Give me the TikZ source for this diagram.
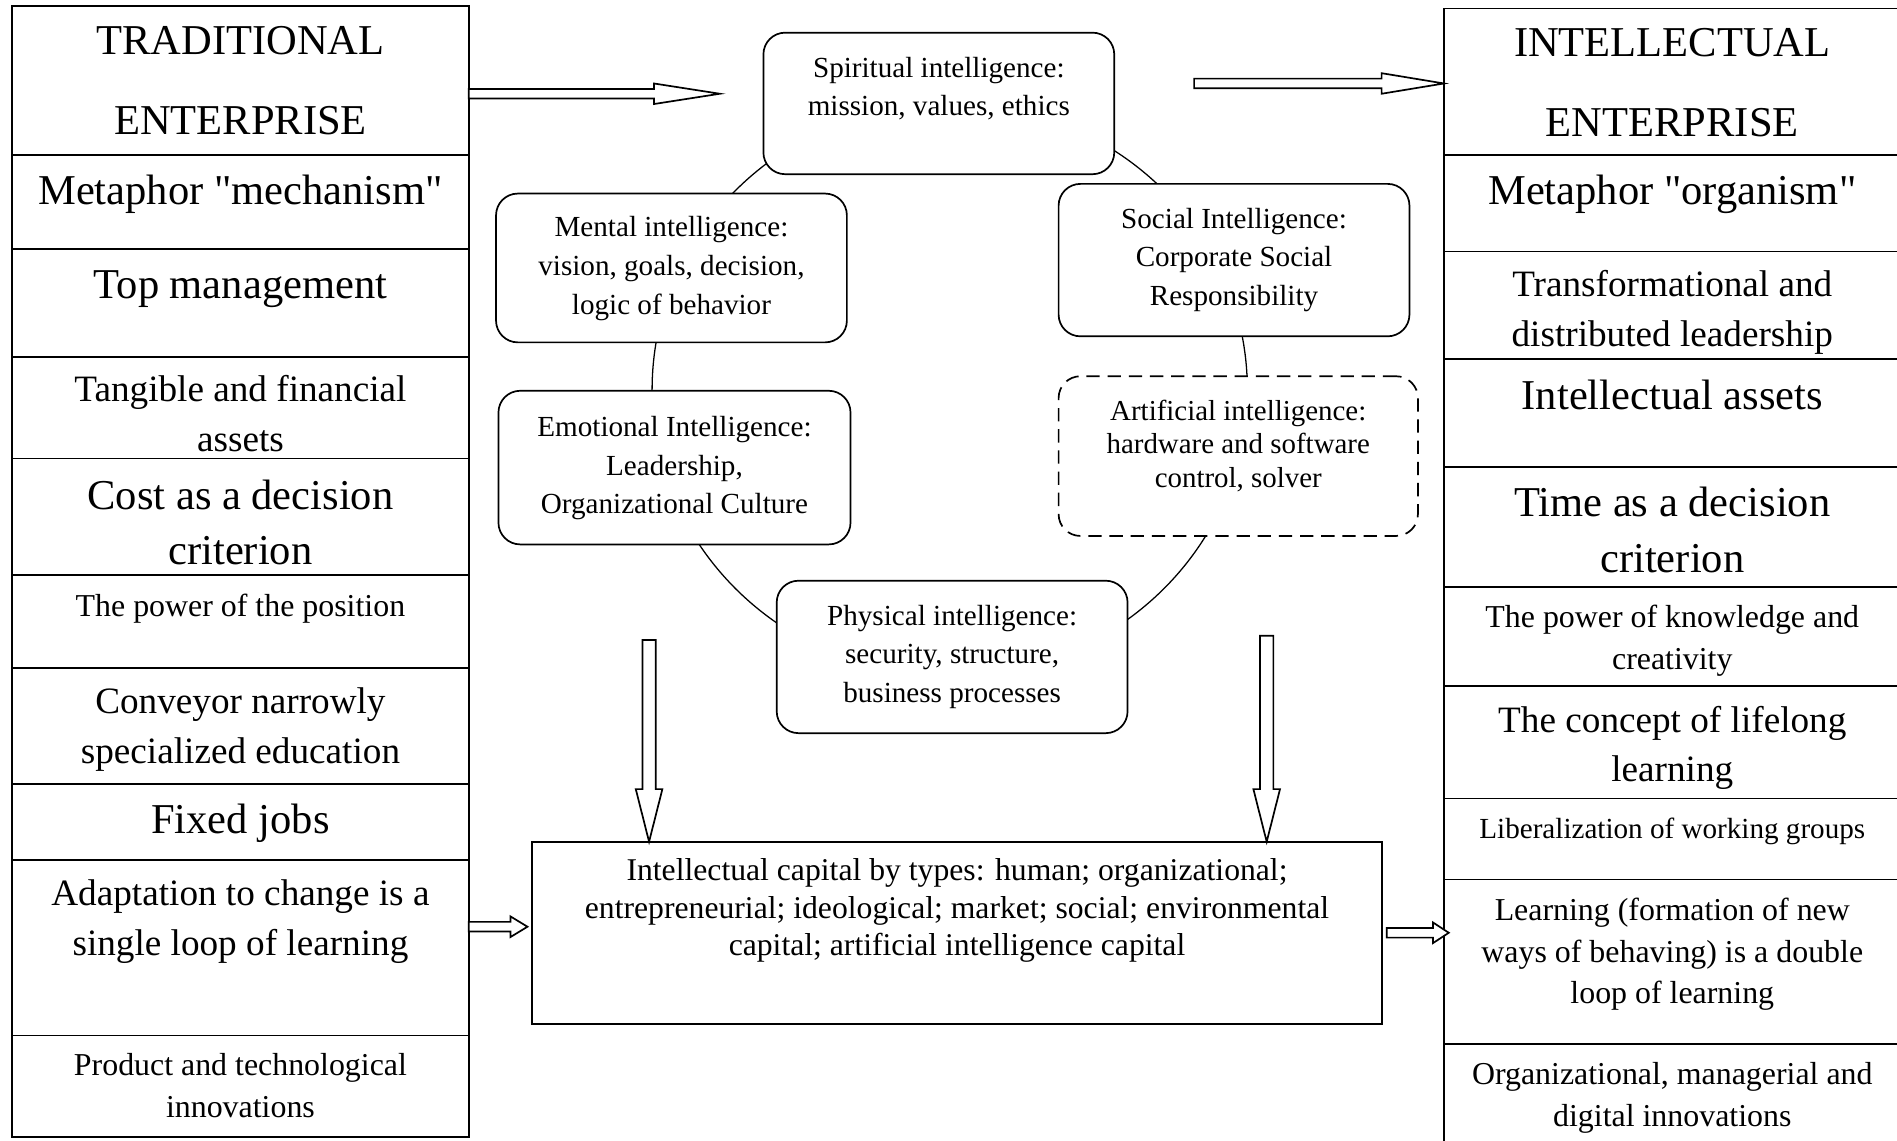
\documentclass[tikz,border=0pt]{standalone}
\usepackage{fontspec}
\setmainfont{Liberation Serif}
\usetikzlibrary{positioning,calc}

\tikzset{
  box/.style n args={3}{draw, fill=white, inner sep=0pt, outer sep=0pt, line width=0.8pt,
    execute at begin node={\begin{minipage}[c][#2][t]{#1}\centering\vspace*{#3}},
    execute at end node={\end{minipage}}},
  cell/.style 2 args={box={7.55cm}{#1}{#2}},
  blob/.style n args={3}{box={#1}{#2}{#3}, rounded corners=0.36cm, font=\fontsize{13.7}{18.2}\selectfont},
  ftitle/.style={font=\fontsize{20}{37.6}\selectfont},
  fbig/.style={font=\fontsize{20}{26.2}\selectfont},
  fmid/.style={font=\fontsize{17.5}{23.3}\selectfont},
  fsmall/.style={font=\fontsize{15}{19.7}\selectfont},
  fat/.style={draw, fill=white, line width=0.8pt},
  fatright/.style n args={3}{fat, to path={
    ($(\tikztostart)+(0,#2)$) -- ($(\tikztotarget)+(-#1,#2)$) -- ($(\tikztotarget)+(-#1,#3)$)
    -- (\tikztotarget) -- ($(\tikztotarget)+(-#1,-#3)$) -- ($(\tikztotarget)+(-#1,-#2)$)
    -- ($(\tikztostart)+(0,-#2)$) -- cycle}},
  fatdown/.style n args={3}{fat, to path={
    ($(\tikztostart)+(-#2,0)$) -- ($(\tikztotarget)+(-#2,#1)$) -- ($(\tikztotarget)+(-#3,#1)$)
    -- (\tikztotarget) -- ($(\tikztotarget)+(#3,#1)$) -- ($(\tikztotarget)+(#2,#1)$)
    -- ($(\tikztostart)+(#2,0)$) -- cycle}}
}

\begin{document}
\begin{tikzpicture}
\useasboundingbox (0,0) rectangle (31.36,-18.86);
\clip (0,0) rectangle (31.36,-18.86);

\draw[line width=0.6pt] (15.70,-6.44) ellipse [x radius=4.92, y radius=4.74];

\node[cell={2.46cm}{0.33cm}, ftitle, anchor=north west] (l1) at (0.2,-0.10) {TRADITIONAL\\ENTERPRISE};
\node[cell={1.56cm}{0.33cm}, fbig, below=0pt of l1] (l2) {Metaphor \textquotedbl mechanism\textquotedbl};
\node[cell={1.78cm}{0.35cm}, fbig, below=0pt of l2] (l3) {Top management};
\node[cell={1.68cm}{0.31cm}, fmid, below=0pt of l3] (l4) {Tangible and financial\\assets};
\node[cell={1.92cm}{0.35cm}, fbig, below=0pt of l4] (l5) {Cost as a decision\\criterion};
\node[cell={1.54cm}{0.32cm}, fsmall, below=0pt of l5] (l6) {The power of the position};
\node[cell={1.92cm}{0.33cm}, fmid, below=0pt of l6] (l7) {Conveyor narrowly\\specialized education};
\node[cell={1.26cm}{0.33cm}, fbig, below=0pt of l7] (l8) {Fixed jobs};
\node[cell={2.90cm}{0.33cm}, fmid, below=0pt of l8] (l9) {Adaptation to change is a\\single loop of learning};
\node[cell={1.68cm}{0.30cm}, fsmall, below=0pt of l9] (l10) {Product and technological\\innovations};

\node[cell={2.42cm}{0.33cm}, ftitle, anchor=north west] (r1) at (23.87,-0.14) {INTELLECTUAL\\ENTERPRISE};
\node[cell={1.60cm}{0.33cm}, fbig, below=0pt of r1] (r2) {Metaphor \textquotedbl organism\textquotedbl};
\node[cell={1.78cm}{0.31cm}, fmid, below=0pt of r2] (r3) {Transformational and\\distributed leadership};
\node[cell={1.78cm}{0.35cm}, fbig, below=0pt of r3] (r4) {Intellectual assets};
\node[cell={1.98cm}{0.33cm}, fbig, below=0pt of r4] (r5) {Time as a decision\\criterion};
\node[cell={1.64cm}{0.30cm}, fsmall, below=0pt of r5] (r6) {The power of knowledge and\\creativity};
\node[cell={1.86cm}{0.33cm}, fmid, below=0pt of r6] (r7) {The concept of lifelong\\learning};
\node[cell={1.34cm}{0.32cm}, font=\fontsize{13.7}{18}\selectfont, below=0pt of r7] (r8) {Liberalization of working groups};
\node[cell={2.72cm}{0.30cm}, fsmall, below=0pt of r8] (r9) {Learning (formation of new\\ways of behaving) is a double\\loop of learning};
\node[cell={1.64cm}{0.30cm}, fsmall, below=0pt of r9] (r10) {Organizational, managerial and\\digital innovations};

\node[blob={5.8cm}{2.34cm}{0.40cm}] (spi) at (15.52,-1.71) {Spiritual intelligence:\\mission, values, ethics};
\node[blob={5.8cm}{2.46cm}{0.38cm}] (men) at (11.10,-4.43) {Mental intelligence:\\vision, goals, decision,\\logic of behavior};
\node[blob={5.8cm}{2.52cm}{0.40cm}] (soc) at (20.40,-4.30) {Social Intelligence:\\Corporate Social\\Responsibility};
\node[blob={5.82cm}{2.54cm}{0.42cm}] (emo) at (11.15,-7.73) {Emotional Intelligence:\\Leadership,\\Organizational Culture};
\node[blob={5.94cm}{2.64cm}{0.40cm}, dash pattern=on 0.22cm off 0.13cm, font=\fontsize{13.6}{15.6}\selectfont] (art) at (20.47,-7.54) {Artificial intelligence:\\hardware and software\\control, solver};
\node[blob={5.8cm}{2.52cm}{0.40cm}] (phy) at (15.74,-10.86) {Physical intelligence:\\security, structure,\\business processes};

\node[box={14.05cm}{3.01cm}{0.28cm}, font=\fontsize{14.9}{17.6}\selectfont] (cap) at (15.82,-15.42) {Intellectual capital by types: human; organizational;\\entrepreneurial; ideological; market; social; environmental\\capital; artificial intelligence capital};

\coordinate (tl) at (11.90,-1.55);
\coordinate (tr) at (19.74,-1.38);
\coordinate (dl) at (10.73,-10.58);
\coordinate (dr) at (20.94,-10.51);
\coordinate (ml) at (8.72,-15.32);

\draw[fatright={1.09}{0.08}{0.17}] (l1.east |- tl) to (tl);
\draw[fatright={1.03}{0.08}{0.17}] (tr) to (r1.west |- tr);
\draw[fatdown={0.87}{0.11}{0.22}] (dl) to (cap.north -| dl);
\draw[fatdown={0.87}{0.11}{0.22}] (dr) to (cap.north -| dr);
\draw[fatright={0.28}{0.08}{0.17}] (l9.east |- ml) to (ml);
\draw[fatright={0.26}{0.08}{0.17}] ([xshift=0.08cm]cap.east) to ([xshift=0.08cm]r9.west |- cap.east);
\end{tikzpicture}
\end{document}
